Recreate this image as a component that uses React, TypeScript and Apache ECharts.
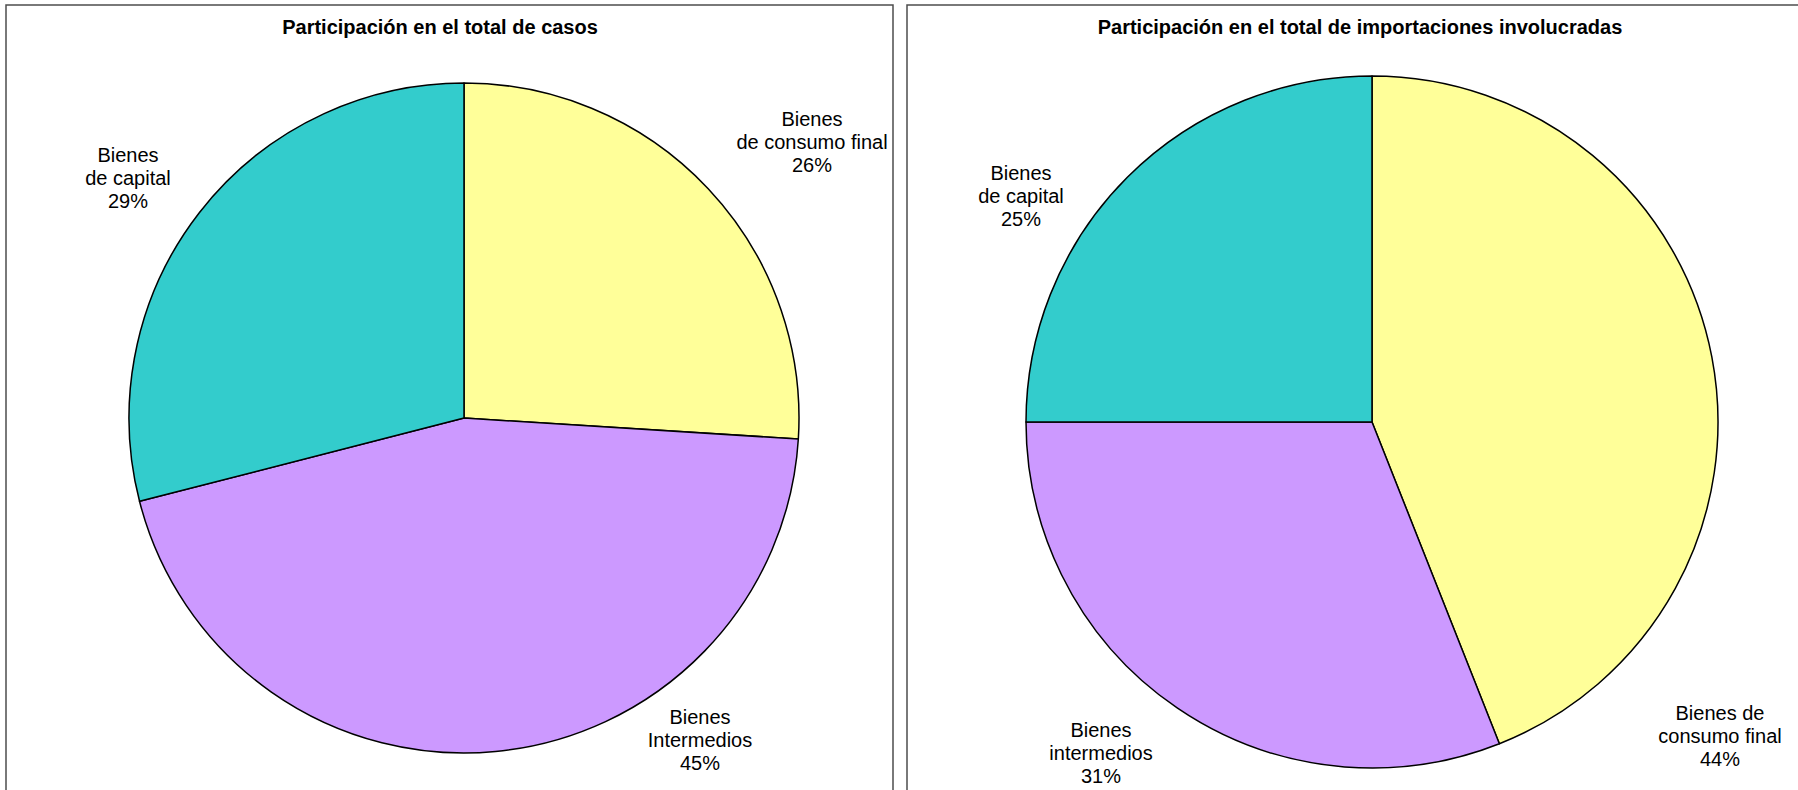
import React, { useEffect, useRef } from "react";
import * as echarts from "echarts";

// ---- Data ----
const categories = ["Bienes de consumo final", "Bienes intermedios", "Bienes de capital"];
const casosLabels = ["Bienes\nde consumo final", "Bienes\nIntermedios", "Bienes\nde capital"];
const importLabels = ["Bienes de\nconsumo final", "Bienes\nintermedios", "Bienes\nde capital"];
const casosValues = [26, 45, 29];
const importValues = [44, 31, 25];
const titles = [
  "Participación en el total de casos",
  "Participación en el total de importaciones involucradas",
];

// ---- Layout (positions & styles) ----
const colors = ["#FFFF99", "#CC99FF", "#33CCCC"];
const casosLabelPos = [
  [812, 142],
  [700, 740],
  [128, 178],
];
const importLabelPos = [
  [1720, 736],
  [1101, 753],
  [1021, 196],
];

export default function App() {
  const ref = useRef<HTMLDivElement>(null);

  useEffect(() => {
    if (!ref.current) return;
    const chart = echarts.init(ref.current, undefined, { renderer: "svg" });
    const font = "Liberation Sans, Arial, sans-serif";

    const makeSeries = (
      names: string[],
      values: number[],
      center: [number, number],
      radius: number,
      pos: number[][]
    ) => ({
      type: "pie",
      center,
      radius,
      startAngle: 90,
      clockwise: true,
      animation: false,
      silent: true,
      data: values.map((v, i) => ({
        name: names[i],
        value: v,
        itemStyle: { color: colors[i] },
      })),
      itemStyle: { borderColor: "#000", borderWidth: 1.5 },
      label: {
        show: true,
        formatter: "{b}\n{c}%",
        fontFamily: font,
        fontSize: 20,
        lineHeight: 23,
        color: "#000",
        align: "center",
        overflow: "none",
        width: 300,
      },
      labelLine: { show: false },
      labelLayout: (params: any) => {
        const p = pos[params.dataIndex];
        return { x: p[0], y: p[1], align: "center", verticalAlign: "middle" };
      },
      emphasis: { disabled: true },
    });

    chart.setOption({
      animation: false,
      backgroundColor: "#fff",
      title: [
        {
          text: titles[0],
          left: 440,
          top: 17,
          textAlign: "center",
          padding: 0,
          textStyle: { fontFamily: font, fontSize: 20, fontWeight: "bold", color: "#000" },
        },
        {
          text: titles[1],
          left: 1360,
          top: 17,
          textAlign: "center",
          padding: 0,
          textStyle: { fontFamily: font, fontSize: 20, fontWeight: "bold", color: "#000" },
        },
      ],
      graphic: [
        {
          type: "rect",
          shape: { x: 6, y: 5, width: 887, height: 800 },
          style: { fill: "none", stroke: "#4d4d4d", lineWidth: 1.5 },
          silent: true,
          z: -1,
        },
        {
          type: "rect",
          shape: { x: 907, y: 5, width: 900, height: 800 },
          style: { fill: "none", stroke: "#4d4d4d", lineWidth: 1.5 },
          silent: true,
          z: -1,
        },
      ],
      series: [
        makeSeries(casosLabels, casosValues, [464, 418], 335, casosLabelPos),
        makeSeries(importLabels, importValues, [1372, 422], 346, importLabelPos),
      ],
    });

    return () => chart.dispose();
  }, []);

  return (
    <div
      ref={ref}
      style={{ position: "absolute", left: 0, top: 0, width: 1798, height: 790 }}
    />
  );
}
